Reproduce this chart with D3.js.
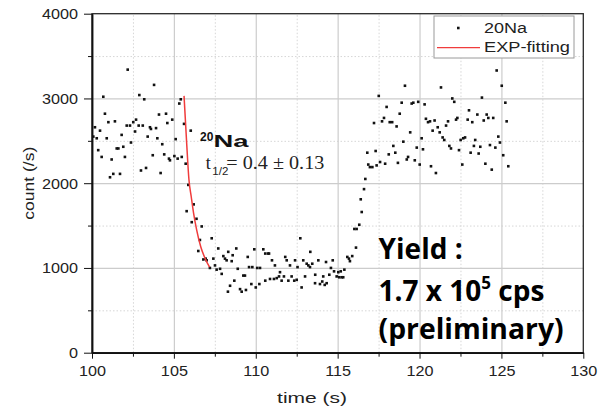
<!DOCTYPE html>
<html>
<head>
<meta charset="utf-8">
<script src="https://cdn.jsdelivr.net/npm/d3@7"></script>
<style>
  body { margin: 0; background: #fff; }
  .axis text { font-family: "Liberation Sans", Arial, sans-serif; font-size: 15px; fill: #222; }
  .axis path, .axis line { stroke: #111; }
  .axis path { stroke-width: 1.5; }
  .grid-major line { stroke: #cccccc; stroke-width: 1.2; }
  .grid-minor line { stroke: #d6d6d6; stroke-width: 1; stroke-dasharray: 1.5,2; }
  .grid path { display: none; }
</style>
</head>
<body>
<svg id="chart" width="599" height="409"></svg>
<script>

var beforeStop = [
    [100.08,2550],[100.18,2660],[100.29,2530],[100.38,2390],[100.49,2620],[100.59,2310],[100.69,3020],
    [100.79,2820],[100.90,2530],[101.00,2720],[101.10,2070],[101.20,2280],[101.30,2110],[101.40,2730],
    [101.51,2410],[101.61,2410],[101.71,2110],[101.81,2570],[101.91,2430],[102.01,2310],[102.12,2680],
    [102.18,3340],[102.32,2680],[102.38,2480],[102.52,2720],[102.63,2610],[102.69,2750],[102.85,2680],
    [102.89,3040],[102.99,2150],[103.10,2680],[103.19,2990],[103.30,2180],[103.40,2550],[103.54,2660],
    [103.60,2640],[103.71,2330],[103.79,3160],[103.91,2650],[103.99,2530],[104.09,2810],[104.19,2120],
    [104.29,2460],[104.41,2340],[104.52,2820],[104.60,2710],[104.70,2290],[104.76,2270],[104.90,2750],
    [105.03,2320],[105.11,2520],[105.23,2290],[105.33,2940],[105.42,2990],[105.48,2310],[105.62,2700],
    [105.72,2230],[105.88,1980],[106.03,2620]
];

var lowPhase = [
    [105.78,1670],[106.09,1540],[106.21,1750],[106.38,1580],[106.49,1200],[106.59,1330],[106.70,1490],
    [106.80,1100],[106.94,1110],[107.00,1090],[107.20,1000],[107.31,1350],[107.41,1110],[107.51,1030],
    [107.61,980],[107.71,1230],[107.82,990],[107.92,930],[108.02,1140],[108.12,1110],[108.22,1090],
    [108.30,720],[108.32,1190],[108.43,790],[108.53,1080],[108.59,1150],[108.69,850],[108.81,1230],
    [108.90,990],[109.04,750],[109.14,720],[109.24,910],[109.34,910],[109.40,740],[109.51,1130],
    [109.59,1010],[109.73,810],[109.79,1010],[109.91,1220],[110.00,770],[110.09,1000],[110.22,810],
    [110.26,1000],[110.46,1220],[110.58,1170],[110.58,850],[110.75,1170],[110.81,1170],[110.87,870],
    [110.99,1090],[111.11,870],[111.17,1030],[111.28,880],[111.42,900],[111.48,950],[111.58,850],
    [111.72,900],[111.80,1130],[111.89,1090],[111.99,850],[112.09,1030],[112.19,900],[112.35,850],
    [112.40,1090],[112.50,860],[112.55,1010],[112.72,1350],[112.80,770],[112.90,1090],[113.01,900],
    [113.11,1050],[113.21,1030],[113.31,1010],[113.33,1190],[113.45,1050],[113.62,820],[113.63,920],
    [113.82,1090],[113.92,810],[114.06,840],[114.12,900],[114.21,800],[114.29,1070],[114.33,820],
    [114.49,920],[114.59,1000],[114.70,1090],[114.78,960],[114.94,900],[115.04,950],[115.10,890],
    [115.19,960],[115.25,890],[115.34,890],[115.41,980],[115.59,1130],[115.69,1110],[115.75,1080],
    [115.89,1140],[116.02,1460],[116.12,1240],[116.16,1460],[116.32,1510],[116.41,1810],[116.47,1660],
    [116.61,1930],[116.69,2050]
];

var afterStart = [
    [116.81,2360],[116.87,2220],[116.97,2190],[117.12,2190],[117.22,2710],[117.32,2380],[117.38,2210],
    [117.51,3030],[117.59,2250],[117.71,2730],[117.83,2770],[117.90,2230],[117.99,2900],[118.12,2340],
    [118.18,2720],[118.33,2720],[118.40,2440],[118.52,2360],[118.60,2670],[118.68,2240],[118.79,2820],
    [118.91,2950],[119.01,2490],[119.11,3150],[119.22,2280],[119.30,2310],[119.43,2600],[119.52,2940],
    [119.62,2950],[119.71,2270],[119.83,2420],[119.92,2960],[120.01,2220],[120.13,2530],[120.21,2400],
    [120.31,2930],[120.39,2760],[120.52,2720],[120.64,2730],[120.70,2200],[120.80,2620],[120.92,2740],
    [121.00,2120],[121.11,2660],[121.23,2600],[121.31,3130],[121.41,2540],[121.51,2510],[121.62,2680],
    [121.74,2730],[121.82,2440],[121.92,2410],[122.00,3000],[122.12,2960],[122.23,2750],[122.31,2770],
    [122.41,2390],[122.51,2510],[122.61,2220],[122.67,2530],[122.78,2540],[122.94,2750],[123.02,2860],
    [123.12,2360],[123.22,2720],[123.32,2440],[123.40,2510],[123.53,2810],[123.61,2350],[123.71,2430],
    [123.81,3010],[123.92,2740],[124.02,2230],[124.10,2810],[124.20,2770],[124.30,2450],[124.41,2160],
    [124.50,2770],[124.63,2420],[124.71,3330],[124.81,2550],[124.91,2480],[125.02,3150],[125.11,2330],
    [125.24,2950],[125.32,2730],[125.42,2200]
];

// exponential fit
var fitTime  = [105.62, 105.77, 105.92, 106.06, 106.20, 106.39, 106.64, 106.90, 107.18];
var fitCount = [3030, 2510, 2040, 1840, 1650, 1450, 1250, 1115, 1010];

var xTicks = [100, 105, 110, 115, 120, 125, 130];
var xMinor = [102.5, 107.5, 112.5, 117.5, 122.5, 127.5];
var yTicks = [0, 1000, 2000, 3000, 4000];
var yMinor = [500, 1500, 2500, 3500];
var legendLabels = ["20Na", "EXP-fitting"];

var margin = {top: 13.7, right: 15.7, bottom: 56.3, left: 92}
    , width = 599 - margin.left - margin.right
    , height = 409 - margin.top - margin.bottom;

var svg = d3.select("#chart")
  .append("g")
    .attr("transform", "translate(" + margin.left + "," + margin.top + ")");

var xScale = d3.scaleLinear().domain([100, 130]).range([0, width]);
var yScale = d3.scaleLinear().domain([0, 4000]).range([height, 0]);

// grid, minor dotted first then major solid
svg.append("g").attr("class", "grid grid-minor")
    .call(d3.axisBottom(xScale).tickValues(xMinor).tickSize(-height).tickFormat(""))
    .attr("transform", "translate(0," + height + ")");
svg.append("g").attr("class", "grid grid-minor")
    .call(d3.axisLeft(yScale).tickValues(yMinor).tickSize(-width).tickFormat(""));
svg.append("g").attr("class", "grid grid-major")
    .attr("transform", "translate(0," + height + ")")
    .call(d3.axisBottom(xScale).tickValues(xTicks.slice(1, -1)).tickSize(-height).tickFormat(""));
svg.append("g").attr("class", "grid grid-major")
    .call(d3.axisLeft(yScale).tickValues(yTicks.slice(1, -1)).tickSize(-width).tickFormat(""));

// frame top + right
svg.append("rect")
    .attr("width", width).attr("height", height)
    .attr("fill", "none").attr("stroke", "#2a2a2a").attr("stroke-width", 1.3);

// axes
svg.append("g").attr("class", "axis")
    .attr("transform", "translate(0," + height + ")")
    .call(d3.axisBottom(xScale).tickValues(xTicks).tickSize(6).tickSizeOuter(0).tickPadding(6.5).tickFormat(d3.format("d")));
svg.append("g").attr("class", "axis")
    .attr("transform", "translate(0," + height + ")")
    .call(d3.axisBottom(xScale).tickValues(xMinor).tickSize(4).tickSizeOuter(0).tickFormat(""));
svg.append("g").attr("class", "axis")
    .call(d3.axisLeft(yScale).tickValues(yTicks).tickSize(8).tickSizeOuter(0).tickPadding(6).tickFormat(d3.format("d")));
svg.append("g").attr("class", "axis")
    .call(d3.axisLeft(yScale).tickValues(yMinor).tickSize(4).tickSizeOuter(0).tickFormat(""));

// stretch the tick labels a little, like the picture
svg.selectAll(".axis .tick text")
    .attr("textLength", function() { return this.getComputedTextLength() * 1.08; })
    .attr("lengthAdjust", "spacingAndGlyphs");

// axis titles
svg.append("text")
    .attr("x", xScale(111.3)).attr("y", height + 50.5)
    .attr("font-family", "Liberation Sans, Arial, sans-serif").attr("font-size", 15).attr("fill", "#222")
    .attr("textLength", 70).attr("lengthAdjust", "spacingAndGlyphs")
    .text("time (s)");
svg.append("text")
    .attr("transform", "translate(" + (34 - margin.left) + "," + (yScale(2000) + 36.5) + ") rotate(-90)")
    .attr("font-family", "Liberation Sans, Arial, sans-serif").attr("font-size", 15).attr("fill", "#222")
    .attr("textLength", 73).attr("lengthAdjust", "spacingAndGlyphs")
    .text("count (/s)");

// data points
var allPoints = beforeStop.concat(lowPhase, afterStart);
svg.selectAll(".dot")
    .data(allPoints)
  .enter().append("rect")
    .attr("class", "dot")
    .attr("x", function(d) { return xScale(d[0]) - 1.3; })
    .attr("y", function(d) { return yScale(d[1]) - 1.3; })
    .attr("width", 2.6).attr("height", 2.6)
    .attr("fill", "#111");

// fit line
var fitData = fitTime.map(function(t, i) { return [t, fitCount[i]]; });
var line = d3.line()
    .x(function(d) { return xScale(d[0]); })
    .y(function(d) { return yScale(d[1]); })
    .curve(d3.curveMonotoneX);
svg.append("path")
    .datum(fitData)
    .attr("d", line)
    .attr("fill", "none").attr("stroke", "#f03c3c").attr("stroke-width", 1.5);

// annotation 20Na + half life
var na = svg.append("text")
    .attr("x", xScale(106.6)).attr("y", yScale(2430))
    .attr("font-family", "Liberation Sans, Arial, sans-serif").attr("font-weight", "bold").attr("fill", "#111");
na.append("tspan").attr("font-size", 12).attr("dy", -6).text("20");
na.append("tspan").attr("font-size", 17).attr("dy", 6).attr("textLength", 35).attr("lengthAdjust", "spacingAndGlyphs").text("Na");

svg.append("text")
    .attr("x", xScale(106.95)).attr("y", yScale(2170))
    .attr("font-family", "Liberation Serif, Times New Roman, serif").attr("font-size", 18).attr("fill", "#222")
    .text("t");
svg.append("text")
    .attr("x", xScale(107.35)).attr("y", yScale(2100))
    .attr("font-family", "Liberation Sans, Arial, sans-serif").attr("font-size", 10).attr("fill", "#222")
    .attr("textLength", 16).attr("lengthAdjust", "spacingAndGlyphs")
    .text("1/2");
svg.append("text")
    .attr("x", xScale(108.2)).attr("y", yScale(2170))
    .attr("font-family", "Liberation Serif, Times New Roman, serif").attr("font-size", 18).attr("fill", "#222")
    .attr("textLength", 98).attr("lengthAdjust", "spacingAndGlyphs")
    .text("= 0.4 \u00b1 0.13");

// yield text
var yieldLines = ["Yield :", "1.7 x 10", "(preliminary)"];
var yieldX = xScale(117.5);
svg.append("text")
    .attr("x", yieldX).attr("y", yScale(1110))
    .attr("font-family", "Open Sans, sans-serif").attr("font-weight", "bold").attr("font-size", 28).attr("fill", "#000")
    .text(yieldLines[0]);
var y2 = svg.append("text")
    .attr("x", yieldX).attr("y", yScale(610))
    .attr("font-family", "Open Sans, sans-serif").attr("font-weight", "bold").attr("font-size", 28).attr("fill", "#000");
y2.append("tspan").text(yieldLines[1]);
y2.append("tspan").attr("font-size", 17).attr("dy", -12).text("5");
y2.append("tspan").attr("dy", 12).text(" cps");
svg.append("text")
    .attr("x", yieldX).attr("y", yScale(160))
    .attr("font-family", "Open Sans, sans-serif").attr("font-weight", "bold").attr("font-size", 28).attr("fill", "#000")
    .attr("textLength", 185).attr("lengthAdjust", "spacingAndGlyphs")
    .text(yieldLines[2]);

// legend
var legend = svg.append("g")
    .attr("transform", "translate(" + (434 - margin.left) + "," + (16 - margin.top) + ")");
legend.append("rect")
    .attr("width", 140).attr("height", 42)
    .attr("fill", "#fff").attr("stroke", "#9a9a9a").attr("stroke-width", 1);
legend.append("rect")
    .attr("x", 23).attr("y", 10.7).attr("width", 2.6).attr("height", 2.6).attr("fill", "#111");
legend.append("line")
    .attr("x1", 3).attr("x2", 46).attr("y1", 31.7).attr("y2", 31.7)
    .attr("stroke", "#f03c3c").attr("stroke-width", 1.3);
legend.selectAll(".legtext")
    .data(legendLabels)
  .enter().append("text")
    .attr("x", 50)
    .attr("y", function(d, i) { return 17.3 + i * 19; })
    .attr("font-family", "Liberation Sans, Arial, sans-serif").attr("font-size", 14).attr("fill", "#222")
    .attr("textLength", function(d, i) { return i == 0 ? 43 : 86; })
    .attr("lengthAdjust", "spacingAndGlyphs")
    .text(function(d) { return d; });

</script>
</body>
</html>
